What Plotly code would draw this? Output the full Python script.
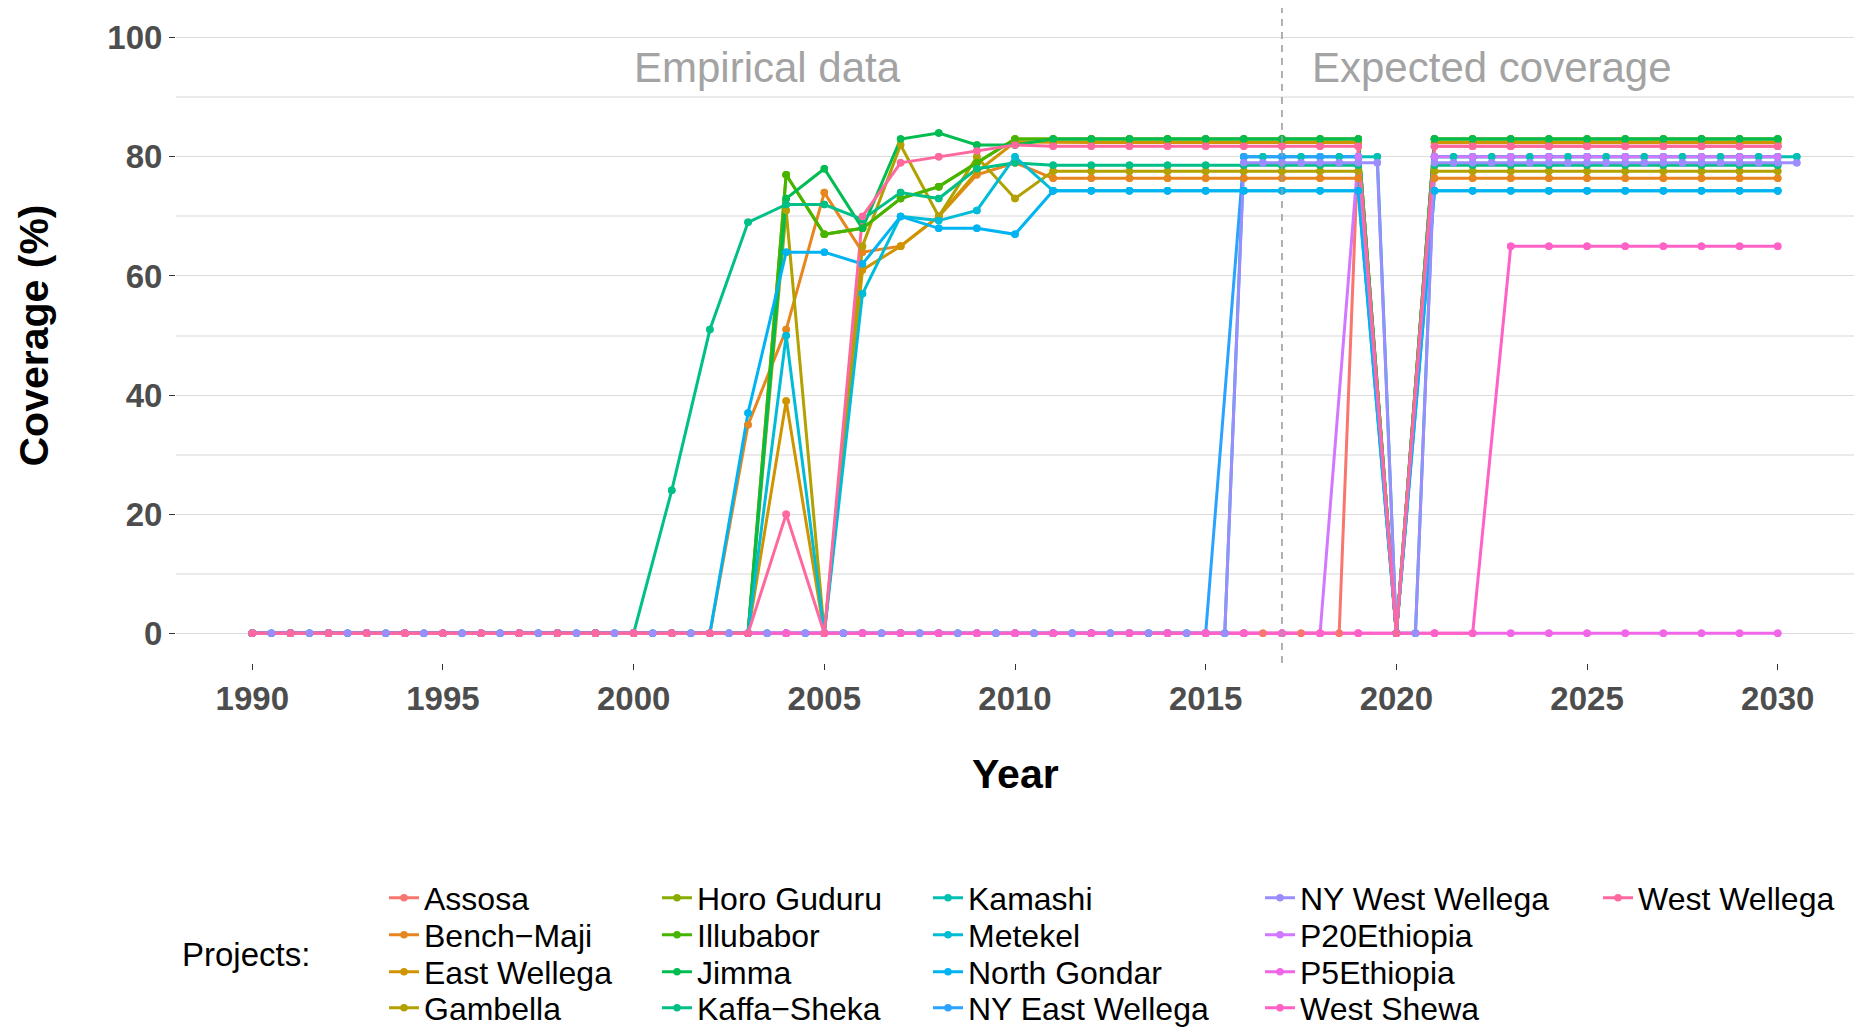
import math
import plotly.graph_objects as go

# ---------------- data ----------------
years = list(range(1990, 2031))                       # integer years 1990..2030
half_years = [1990 + 0.5 * i for i in range(82)]      # 1990, 1990.5, ..., 2030.5
assosa_years = list(range(1990, 2017)) + [2016.5, 2017, 2017.5, 2018, 2018.5, 2019, 2020] + list(range(2021, 2031))

projects = ["Assosa", "Bench\u2212Maji", "East Wellega", "Gambella", "Horo Guduru",
            "Illubabor", "Jimma", "Kaffa\u2212Sheka", "Kamashi", "Metekel", "North Gondar",
            "NY East Wellega", "NY West Wellega", "P20Ethiopia", "P5Ethiopia",
            "West Shewa", "West Wellega"]

assosa = [0] * 27 + [0, 0, 0, 0, 0, 81.8, 0] + [81.8] * 10
bench_maji = [0] * 13 + [35, 51, 74, 64, 65, 70, 77, 79] + [76.4] * 9 + [0] + [76.4] * 10
east_wellega = [0] * 14 + [39, 0, 61, 65, 70, 77.5, 82.5] + [82.4] * 9 + [0] + [82.4] * 10
gambella = [0] * 14 + [71, 0, 65, 82, 70, 80, 73] + [77.6] * 9 + [0] + [77.6] * 10
horo_guduru = [0] * 14 + [77, 67, 68, 73, 75, 79, 83] + [83] * 9 + [0] + [83] * 10
illubabor = [0] * 14 + [77, 67, 68, 73, 75, 79, 83] + [83] * 9 + [0] + [83] * 10
jimma = [0] * 14 + [73, 78, 68, 83, 84, 82, 82] + [83] * 9 + [0] + [83] * 10
kaffa_sheka = [0] * 11 + [24, 51, 69, 72, 72, 69.5, 74, 73, 78, 79] + [78.6] * 9 + [0] + [78.6] * 10
kamashi = [0] * 52 + [80] * 8 + [0, 0] + [80] * 20
metekel = [0] * 14 + [50, 0, 57, 70, 69.3, 71, 80] + [74.3] * 9 + [0] + [74.3] * 10
north_gondar = [0] * 13 + [37, 64, 64, 62, 70, 68, 68, 67] + [74.3] * 9 + [0] + [74.3] * 10
ny_east_wellega = [0] * 26 + [80] * 4 + [0] + [80] * 10
ny_west_wellega = [0] * 52 + [79] * 8 + [0, 0] + [79] * 20
p20_ethiopia = [0] * 29 + [80, 0] + [80] * 10
p5_ethiopia = [0] * 41
west_shewa = [0] * 33 + [65] * 8
west_wellega = [0] * 14 + [20, 0, 70, 79, 80, 81, 82] + [81.8] * 9 + [0] + [81.8] * 10

series_x = [assosa_years, years, years, years, years, years, years, years, half_years,
            years, years, years, half_years, years, years, years, years]
series_y = [assosa, bench_maji, east_wellega, gambella, horo_guduru, illubabor, jimma,
            kaffa_sheka, kamashi, metekel, north_gondar, ny_east_wellega, ny_west_wellega,
            p20_ethiopia, p5_ethiopia, west_shewa, west_wellega]

x_ticks = [1990, 1995, 2000, 2005, 2010, 2015, 2020, 2025, 2030]
y_ticks = [0, 20, 40, 60, 80, 100]
y_minor = [10, 30, 50, 70, 90]
cutoff_year = 2017
period_labels = ["Empirical data", "Expected coverage"]
period_label_x = [2003.5, 2022.5]
period_label_y = 95


# ---------------- ggplot-like hue palette ----------------
def hcl_hex(h, c=100.0, l=65.0):
    hr = math.radians(h)
    u, v = c * math.cos(hr), c * math.sin(hr)
    xn, yn, zn = 95.047, 100.0, 108.883
    Y = yn * ((l + 16) / 116) ** 3 if l > 8 else yn * l / 903.3
    un = 4 * xn / (xn + 15 * yn + 3 * zn)
    vn = 9 * yn / (xn + 15 * yn + 3 * zn)
    up = u / (13 * l) + un
    vp = v / (13 * l) + vn
    X = 9.0 * Y * up / (4 * vp)
    Z = -X / 3 - 5 * Y + 3 * Y / vp
    X, Y, Z = X / 100, Y / 100, Z / 100
    r = 3.240479 * X - 1.537150 * Y - 0.498535 * Z
    g = -0.969256 * X + 1.875992 * Y + 0.041556 * Z
    b = 0.055648 * X - 0.204043 * Y + 1.057311 * Z

    def gam(t):
        t = 12.92 * t if t <= 0.0031308 else 1.055 * t ** (1 / 2.4) - 0.055
        return int(round(min(max(t, 0), 1) * 255))
    return "#%02X%02X%02X" % (gam(r), gam(g), gam(b))


n = len(projects)
colors = [hcl_hex(15 + 360.0 * i / n) for i in range(n)]

# ---------------- geometry ----------------
W, H = 1872, 1029
ML, MR, MT, MB = 176, 18, 8, 366
PW, PH = W - ML - MR, H - MT - MB


def px_x(p):
    return (p - ML) / PW


def px_y(p):
    return (H - MB - p) / PH


FONT = "Liberation Sans, Arial, sans-serif"

fig = go.Figure()

legend_ids = ["legend" if i == 0 else "legend%d" % (i + 1) for i in range(n)]

for i in range(n):
    fig.add_trace(go.Scatter(
        x=series_x[i], y=series_y[i], name=projects[i], mode="lines+markers",
        line=dict(color=colors[i], width=3), marker=dict(color=colors[i], size=7.5),
        legend=legend_ids[i], showlegend=True, hoverinfo="skip"))
for i in range(n):
    fig.add_trace(go.Scatter(
        x=series_x[i], y=series_y[i], name=projects[i], mode="markers",
        marker=dict(color=colors[i], size=7.5), showlegend=False, hoverinfo="skip"))

col_label_px = [425, 698, 969, 1301, 1639]
row_px = [898, 935, 972, 1008]
legends = {}
for i in range(n):
    col, row = i // 4, i % 4
    legends[legend_ids[i]] = dict(
        xref="container", yref="container",
        x=(col_label_px[col] - 41) / W, y=1 - row_px[row] / H, xanchor="left", yanchor="middle",
        orientation="v", bgcolor="rgba(0,0,0,0)", borderwidth=0, itemwidth=30,
        font=dict(family=FONT, size=32, color="#000000"))

annotations = [
    dict(text="Projects:", x=px_x(180), y=px_y(954), xref="paper", yref="paper",
         xanchor="left", yanchor="middle", showarrow=False,
         font=dict(family=FONT, size=33, color="#000000")),
    dict(text="Year", x=0.5, y=px_y(774), xref="paper", yref="paper",
         xanchor="center", yanchor="middle", showarrow=False,
         font=dict(family=FONT, size=41, color="#000000", weight="bold")),
    dict(text="Coverage (%)", x=px_x(33), y=0.5, xref="paper", yref="paper", textangle=-90,
         xanchor="center", yanchor="middle", showarrow=False,
         font=dict(family=FONT, size=41, color="#000000", weight="bold")),
]
for t, xv in zip(period_labels, period_label_x):
    annotations.append(dict(text=t, x=xv, y=period_label_y, xref="x", yref="y",
                            xanchor="center", yanchor="middle", showarrow=False,
                            font=dict(family=FONT, size=42, color="#A3A3A3")))

fig.add_shape(type="line", x0=cutoff_year, x1=cutoff_year, y0=0, y1=1, xref="x", yref="paper",
              line=dict(color="#9E9E9E", width=1.6, dash="7px,6px"), layer="above")

fig.update_layout(
    width=W, height=H, margin=dict(l=ML, r=MR, t=MT, b=MB, autoexpand=False),
    paper_bgcolor="white", plot_bgcolor="white",
    annotations=annotations, **legends,
    xaxis=dict(range=[1988, 2032], tickvals=x_ticks, showgrid=False, zeroline=False,
               showline=False, ticks="outside", ticklen=6, tickwidth=1.3, tickcolor="#333333",
               tickfont=dict(family=FONT, size=33, color="#4D4D4D", weight="bold")),
    yaxis=dict(range=[-5, 105], tickvals=y_ticks, showgrid=True, gridcolor="#DCDCDC",
               gridwidth=1.1, zeroline=False, showline=False, ticks="outside", ticklen=6,
               tickwidth=1.3, tickcolor="#333333",
               tickfont=dict(family=FONT, size=33, color="#4D4D4D", weight="bold"),
               minor=dict(tickvals=y_minor, showgrid=True, gridcolor="#EBEBEB", gridwidth=1.6,
                          ticks="")),
)

fig.write_html("out.html", config={"displayModeBar": False},
               post_script="document.body.style.margin='0';document.body.style.overflow='hidden';")
